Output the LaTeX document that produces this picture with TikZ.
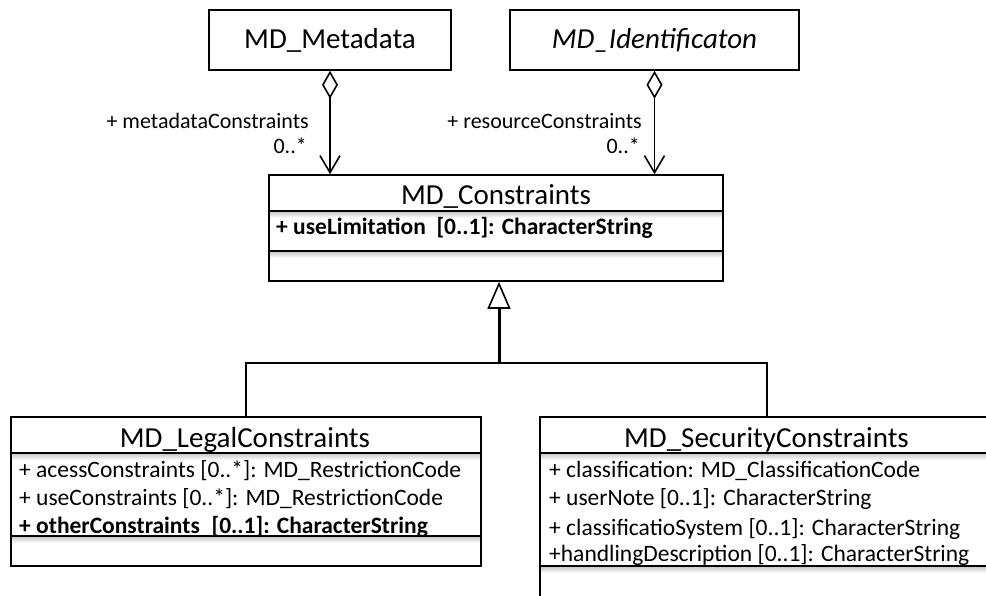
\documentclass[tikz,border=0pt]{standalone}
\usepackage{fontspec}
\setmainfont{Carlito}
\usetikzlibrary{arrows.meta,calc}
\begin{document}
\begin{tikzpicture}[x=1pt,y=-1pt,
  box/.style={draw, line width=1.6pt, inner sep=0pt, rectangle},
  boxtitle/.style={font=\fontsize{29}{31}\selectfont, inner sep=0pt, anchor=base},
  attr/.style={font=\fontsize{23.5}{25}\selectfont, inner sep=0pt, anchor=base west},
  attrb/.style={font=\fontsize{23.5}{25}\selectfont\bfseries, inner sep=0pt, anchor=base west},
  rolelab/.style={font=\fontsize{22}{24}\selectfont, inner sep=0pt, anchor=base east},
  sepline/.style={line width=1.6pt},
  shadowband/.style={top color=black!20, bottom color=white, draw=none},
  conn/.style={line width=1.6pt},
]
\useasboundingbox (0,0) rectangle (986,595);
\clip (0,0) rectangle (986,595);

% shadows under compartment separators
\shade[shadowband] (270,212) rectangle (722,218);
\shade[shadowband] (270,252) rectangle (722,258);
\shade[shadowband] (12,454) rectangle (480,460);
\shade[shadowband] (12,537) rectangle (480,543);
\shade[shadowband] (541,454) rectangle (986,460);
\shade[shadowband] (541,567) rectangle (986,573);

% top classes
\node[box, minimum width=242pt, minimum height=60pt, font=\fontsize{29}{31}\selectfont, text height=18pt, text depth=2pt] (meta) at (330,40) {MD\_Metadata};
\node[box, minimum width=289pt, minimum height=60pt, font=\fontsize{29}{31}\selectfont\itshape, text height=18pt, text depth=2pt] (ident) at (654.5,40) {MD\_Identificaton};

% MD_Constraints
\node[box, minimum width=454pt, minimum height=106pt] (cons) at (496,228) {};
\node[boxtitle] (consT) at (496,204) {MD\_Constraints};
\draw[sepline] (269,211) -- (723,211);
\draw[sepline] (269,251) -- (723,251);
\node[attrb] (consA1) at (276,234) {+ useLimitation\hspace{0.45em}[0..1]: CharacterString};

% MD_LegalConstraints
\node[box, minimum width=470pt, minimum height=149pt] (legal) at (246,491.5) {};
\node[boxtitle] (legalT) at (245,447) {MD\_LegalConstraints};
\draw[sepline] (11,453) -- (481,453);
\draw[sepline] (11,536) -- (481,536);
\node[attr] (legalA1) at (19,477) {+ acessConstraints [0..*]: MD\_RestrictionCode};
\node[attr] (legalA2) at (19,505) {+ useConstraints [0..*]: MD\_RestrictionCode};
\node[attrb] (legalA3) at (19,533) {+ otherConstraints\hspace{0.5em}[0..1]: CharacterString};

% MD_SecurityConstraints
\node[box, minimum width=454pt, minimum height=206pt] (sec) at (767,520) {};
\node[boxtitle] (secT) at (766.5,447) {MD\_SecurityConstraints};
\draw[sepline] (540,453) -- (994,453);
\draw[sepline] (540,566) -- (994,566);
\node[attr] (secA1) at (549,477) {+ classification: MD\_ClassificationCode};
\node[attr] (secA2) at (549,505) {+ userNote [0..1]: CharacterString};
\node[attr] (secA3) at (549,535) {+ classificatioSystem [0..1]: CharacterString};
\node[attr] (secA4) at (549,561) {+handlingDescription [0..1]: CharacterString};

% aggregations
\draw[conn, {Diamond[open,length=28pt,width=16pt,line width=1.6pt]}-{Straight Barb[length=17pt,width=20pt,line width=1.6pt]}]
  (meta.south) -- (meta.south |- cons.north);
\draw[conn, {Diamond[open,length=28pt,width=16pt,line width=1.6pt]}-{Straight Barb[length=17pt,width=20pt,line width=1.6pt]}]
  (ident.south) -- (ident.south |- cons.north);
\node[rolelab] (role1) at (309,128) {+ metadataConstraints};
\node[rolelab] (mult1) at (307,153) {0..*};
\node[rolelab] (role2) at (642,128) {+ resourceConstraints};
\node[rolelab] (mult2) at (640,153) {0..*};

% generalization
\coordinate (j) at (499,363);
\draw[conn] (legal.north) |- (j) -| (sec.north);
\draw[line width=3pt, -{Triangle[open,length=27pt,width=23pt,line width=1.6pt]}] (j) -- (j |- cons.south);
\end{tikzpicture}
\end{document}
